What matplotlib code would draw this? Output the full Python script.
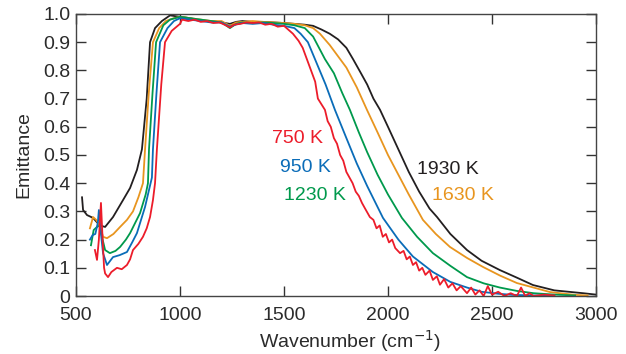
import matplotlib
matplotlib.use("Agg")
import matplotlib.pyplot as plt

plt.rcParams['font.family'] = ['Liberation Sans', 'DejaVu Sans']

# 1930 K
wn_1930 = [529, 534, 553, 582, 615, 640, 678, 726, 760, 793, 817, 840, 856, 880, 913, 952, 1000,
           1050, 1100, 1150, 1200, 1240, 1270, 1300, 1350, 1400, 1450, 1500, 1550, 1600, 1640,
           1680, 1720, 1760, 1800, 1832, 1870, 1900, 1930, 1962, 2000, 2050, 2100, 2150, 2200,
           2236, 2300, 2380, 2450, 2538, 2620, 2697, 2800, 2938, 3000]
em_1930 = [.35, .305, .287, .277, .25, .245, .28, .34, .383, .447, .52, .70, .90, .95, .975, .995, .99,
           .985, .975, .975, .97, .965, .972, .975, .972, .972, .97, .968, .965, .962, .958,
           .945, .93, .91, .88, .84, .79, .75, .70, .66, .60, .52, .44, .37, .31,
           .28, .22, .163, .125, .092, .065, .039, .02, .01, .005]

# 1630 K
wn_1630 = [567, 582, 597, 615, 630, 649, 680, 712, 745, 774, 800, 822, 832, 850, 870, 900, 932, 970,
           1000, 1050, 1100, 1150, 1200, 1240, 1270, 1300, 1350, 1400, 1450, 1500, 1550, 1600, 1640,
           1673, 1720, 1770, 1800, 1850, 1899, 1950, 2000, 2050, 2100, 2168, 2230, 2298, 2380, 2457,
           2540, 2620, 2700, 2779, 2850, 2900, 2960]
em_1630 = [.24, .28, .27, .25, .21, .205, .22, .245, .27, .30, .35, .40, .52, .72, .90, .95, .975, .985,
           .99, .985, .98, .975, .975, .958, .97, .972, .975, .972, .97, .968, .965, .96, .95,
           .93, .89, .84, .81, .74, .66, .58, .50, .43, .36, .27, .22, .174, .135, .103,
           .072, .046, .03, .014, .008, .004, .002]

# 1230 K
wn_1230 = [572, 585, 601, 615, 628, 640, 663, 690, 712, 740, 760, 785, 808, 835, 846, 851, 868, 885,
           920, 952, 1000, 1050, 1100, 1150, 1200, 1240, 1270, 1300, 1350, 1400, 1450, 1500, 1550,
           1600, 1640, 1697, 1740, 1780, 1817, 1860, 1900, 1950, 2000, 2067, 2140, 2216, 2300, 2380,
           2460, 2538, 2620, 2700, 2800, 2900]
em_1230 = [.18, .234, .245, .25, .20, .163, .152, .16, .174, .20, .223, .26, .294, .36, .40, .52, .72, .90,
           .96, .98, .99, .985, .98, .975, .97, .95, .965, .97, .968, .97, .968, .965, .96,
           .95, .92, .84, .79, .72, .66, .58, .51, .43, .36, .277, .21, .152, .107, .067,
           .045, .03, .018, .01, .005, .002]

# 950 K
wn_950 = [567, 580, 593, 605, 610, 620, 630, 649, 678, 710, 745, 770, 793, 832, 865, 870, 887, 904,
          940, 971, 1000, 1050, 1100, 1150, 1200, 1240, 1270, 1300, 1350, 1400, 1450, 1500, 1550,
          1580, 1615, 1649, 1700, 1745, 1800, 1850, 1900, 1976, 2050, 2120, 2216, 2300, 2380, 2450,
          2530, 2600, 2700, 2800]
em_950 = [.2, .216, .22, .26, .305, .22, .152, .11, .138, .145, .156, .19, .223, .316, .42, .52, .72, .90,
          .95, .975, .985, .98, .975, .97, .97, .955, .963, .968, .965, .968, .962, .958, .95,
          .93, .90, .84, .75, .66, .56, .47, .39, .277, .20, .14, .085, .05, .03, .015,
          .008, .004, .002, .001]

# 750 K
wn_750 = [591, 601, 610, 620, 628, 635, 640, 654, 670, 697, 720, 745, 760, 774, 800, 822, 840, 856,
          870, 880, 889, 910, 928, 960, 1000, 1010, 1040, 1070, 1100, 1130, 1160, 1190, 1220, 1240,
          1260, 1290, 1320, 1350, 1380, 1410, 1440, 1470, 1500, 1520, 1543, 1570, 1590, 1610, 1630,
          1650, 1663, 1680, 1697, 1710, 1725, 1740, 1755, 1770, 1785, 1800, 1815, 1830, 1845, 1860,
          1875, 1890, 1913, 1930, 1945, 1960, 1975, 1990, 2005, 2020, 2035, 2058, 2075, 2090, 2105,
          2120, 2135, 2150, 2165, 2180, 2200, 2216, 2235, 2250, 2270, 2290, 2310, 2330, 2350, 2380,
          2400, 2420, 2440, 2460, 2480, 2500, 2530, 2560, 2590, 2620, 2640, 2660, 2680, 2700, 2750, 2800]
em_750 = [.163, .128, .2, .33, .2, .1, .08, .067, .085, .1, .095, .11, .13, .163, .185, .21, .24, .28,
          .34, .40, .52, .75, .90, .94, .965, .98, .975, .98, .972, .975, .968, .97, .96, .952,
          .962, .965, .97, .968, .97, .962, .965, .955, .958, .945, .93, .905, .88, .84, .80,
          .76, .70, .68, .66, .62, .60, .56, .54, .50, .48, .44, .42, .40, .37, .355,
          .33, .31, .28, .27, .24, .25, .21, .22, .19, .20, .17, .152, .16, .13, .14,
          .11, .12, .09, .10, .075, .09, .057, .07, .04, .06, .03, .045, .02, .035, .01,
          .03, .005, .02, .0, .035, .005, .015, .0, .01, .0, .03, .0, .01, .0, .005, .002]

series = [
    (wn_1930, em_1930, '#231f20', '1930 K', 2288, 0.447),
    (wn_1630, em_1630, '#e8951f', '1630 K', 2361, 0.355),
    (wn_1230, em_1230, '#00994c', '1230 K', 1649, 0.358),
    (wn_950, em_950, '#0a6cb8', '950 K', 1601, 0.454),
    (wn_750, em_750, '#ec1c2a', '750 K', 1567, 0.56),
]

fig = plt.figure(figsize=(6.26, 3.54), dpi=100)
ax = fig.add_axes([0.1214, 0.1638, 0.8306, 0.7967])

for wn, em, col, lab, tx, ty in series:
    ax.plot(wn, em, color=col, lw=1.3)
    ax.text(tx, ty, lab, color=col, fontsize=14, ha='center', va='center')

ax.set_xlim(500, 3000)
ax.set_ylim(0, 1.0)
ax.set_xticks([500, 1000, 1500, 2000, 2500, 3000])
ax.set_yticks([i / 10 for i in range(11)])
ax.set_yticklabels(['0'] + ['%.1f' % (i / 10) for i in range(1, 11)])
ax.tick_params(direction='in', length=7, width=1, top=True, right=True,
               labelsize=14, labelcolor='#2b2b2b', color='#333333')
ax.tick_params(axis='x', pad=8)
ax.tick_params(axis='y', pad=4)
for s in ax.spines.values():
    s.set_color('#444444')
    s.set_linewidth(1)
ax.set_xlabel('Wavenumber (cm$^{-1}$)', fontsize=14, color='#2b2b2b')
ax.xaxis.set_label_coords(0.527, -0.112, transform=ax.transAxes)
ax.xaxis.label.set_va('top')
ax.set_ylabel('Emittance', fontsize=14, color='#2b2b2b', labelpad=8)

fig.savefig('out.png', dpi=100)
